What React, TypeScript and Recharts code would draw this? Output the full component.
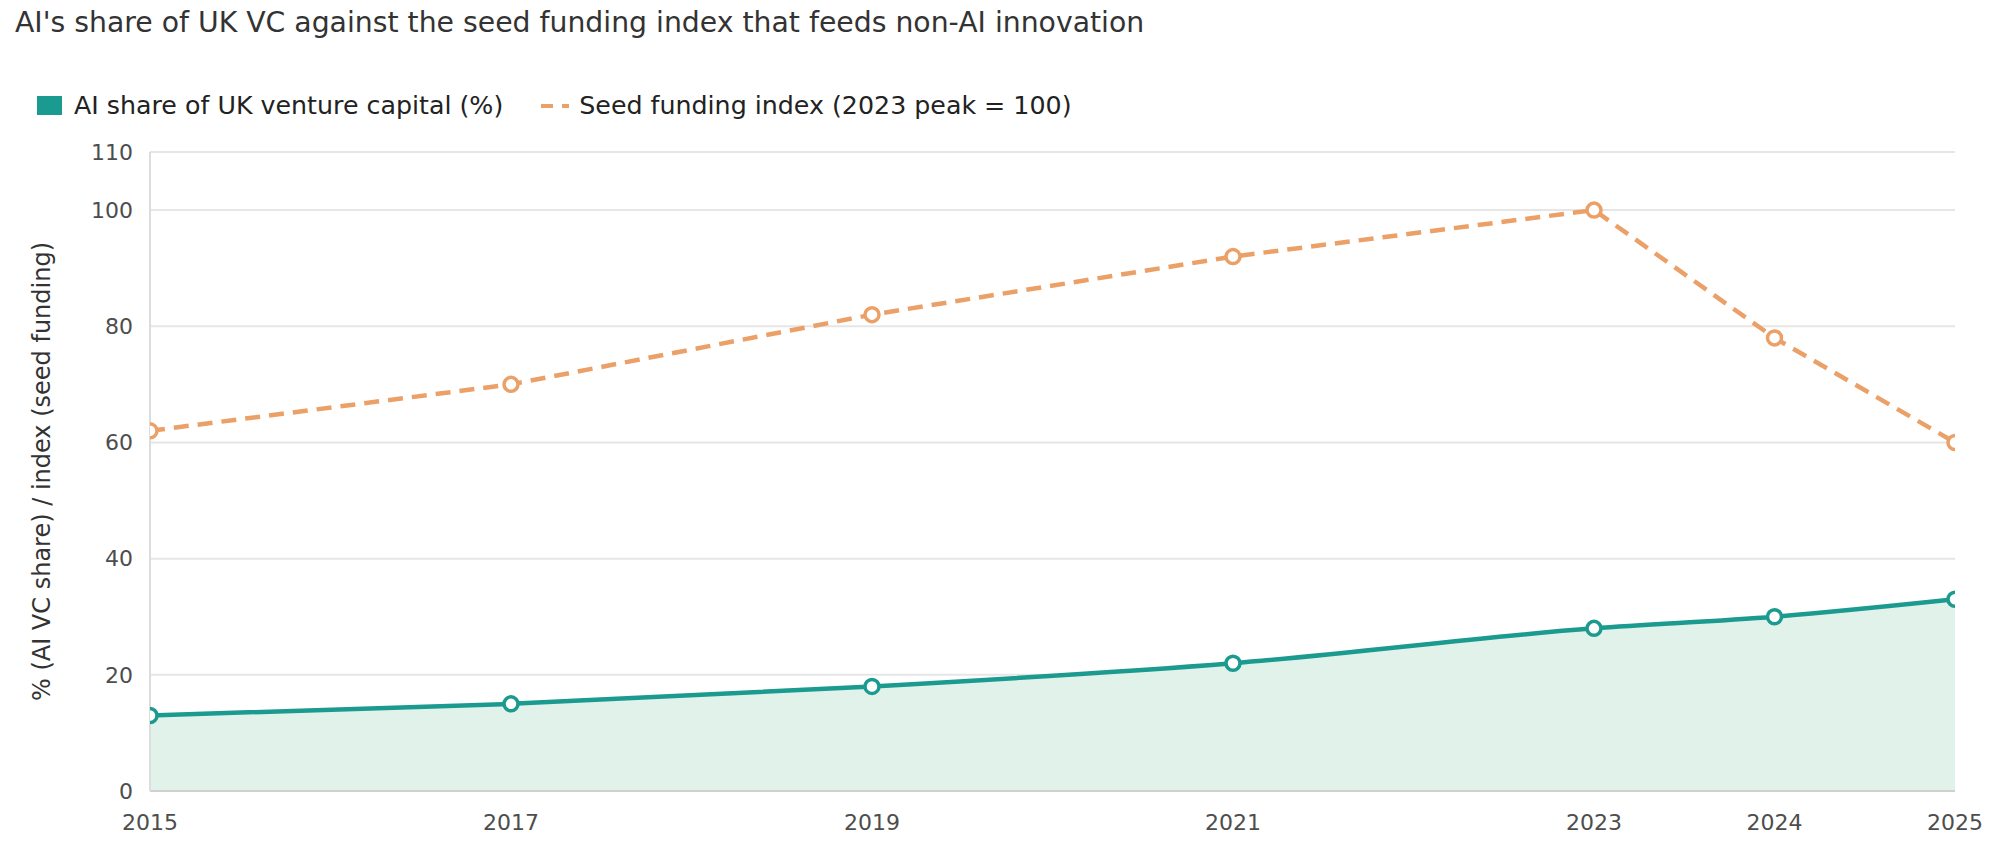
import {
  ComposedChart,
  Area,
  Line,
  XAxis,
  YAxis,
  CartesianGrid,
} from "recharts";

const years = [2015, 2017, 2019, 2021, 2023, 2024, 2025];
const aiShare = [13, 15, 18, 22, 28, 30, 33];
const seedIndex = [62, 70, 82, 92, 100, 78, 60];
const yTicks = [0, 20, 40, 60, 80, 100, 110];

const TEAL = "#1b9a8f";
const ORANGE = "#eba068";
const FONT = "'DejaVu Sans', Verdana, sans-serif";

const chartData = years.map((year, i) => ({
  year,
  aiShare: aiShare[i],
  seedIndex: seedIndex[i],
}));

const YLabel = (props: any) => {
  const vb = props.viewBox || {};
  const cx = 42;
  const cy = (vb.y || 0) + (vb.height || 0) / 2;
  return (
    <text
      x={cx}
      y={cy}
      transform={`rotate(-90 ${cx} ${cy})`}
      textAnchor="middle"
      dominantBaseline="central"
      fontSize={24}
      fill="#333"
      fontFamily={FONT}
    >
      % (AI VC share) / index (seed funding)
    </text>
  );
};

export default function App() {
  return (
    <div
      style={{
        position: "absolute",
        left: 0,
        top: 0,
        width: 1999,
        height: 862,
        background: "#fff",
        fontFamily: FONT,
      }}
    >
      {/* title */}
      <div
        style={{
          position: "absolute",
          left: 15,
          top: 6,
          fontSize: 28.3,
          color: "#333",
          whiteSpace: "nowrap",
        }}
      >
        AI's share of UK VC against the seed funding index that feeds non-AI innovation
      </div>

      {/* legend */}
      <div
        style={{
          position: "absolute",
          left: 37,
          top: 91,
          display: "flex",
          alignItems: "center",
          fontSize: 25.3,
          color: "#222",
          whiteSpace: "nowrap",
        }}
      >
        <span
          style={{ width: 25, height: 19, background: TEAL, display: "inline-block" }}
        />
        <span style={{ marginLeft: 12 }}>AI share of UK venture capital (%)</span>
        <svg width={28} height={20} style={{ marginLeft: 38 }}>
          <line
            x1={0}
            y1={10}
            x2={28}
            y2={10}
            stroke={ORANGE}
            strokeWidth={4}
            strokeDasharray="12 9"
          />
        </svg>
        <span style={{ marginLeft: 10 }}>Seed funding index (2023 peak = 100)</span>
      </div>

      <div style={{ position: "absolute", left: 0, top: 0 }}>
        <ComposedChart
          width={1999}
          height={862}
          data={chartData}
          margin={{ top: 152, right: 44, bottom: 31, left: 0 }}
        >
          <CartesianGrid vertical={false} stroke="#e6e6e6" strokeWidth={2} />
          <XAxis
            dataKey="year"
            type="number"
            domain={[2015, 2025]}
            ticks={years}
            allowDataOverflow
            height={40}
            tickLine={false}
            tickSize={0}
            tickMargin={23}
            axisLine={{ stroke: "#d0d0d0", strokeWidth: 2 }}
            tick={{ fontSize: 22, fill: "#4d4d4d", fontFamily: FONT }}
          />
          <YAxis
            type="number"
            domain={[0, 110]}
            ticks={yTicks}
            width={150}
            tickLine={false}
            tickSize={0}
            tickMargin={17}
            axisLine={{ stroke: "#dddddd", strokeWidth: 2 }}
            tick={{ fontSize: 22, fill: "#4d4d4d", fontFamily: FONT }}
            label={YLabel}
          />
          <Area
            type="monotone"
            dataKey="aiShare"
            stroke={TEAL}
            strokeWidth={4.5}
            fill="#e1f2ea"
            fillOpacity={1}
            dot={{ r: 7, fill: "#fff", stroke: TEAL, strokeWidth: 3.5 }}
            activeDot={false}
            isAnimationActive={false}
          />
          <Line
            type="linear"
            dataKey="seedIndex"
            stroke={ORANGE}
            strokeWidth={4.5}
            strokeDasharray="15 9"
            dot={{
              r: 7,
              fill: "#fff",
              stroke: ORANGE,
              strokeWidth: 3.5,
              strokeDasharray: "none",
            }}
            activeDot={false}
            isAnimationActive={false}
          />
        </ComposedChart>
      </div>
    </div>
  );
}
